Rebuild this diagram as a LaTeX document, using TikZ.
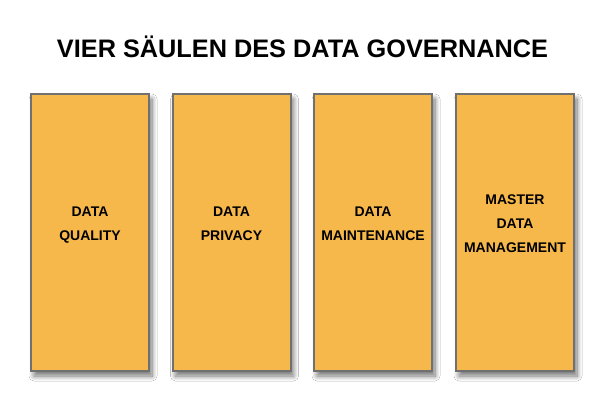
\documentclass[tikz,border=0pt]{standalone}
\usepackage{fontspec}
\setmainfont{Liberation Sans}
\usetikzlibrary{shadows.blur}
\definecolor{pillar}{HTML}{F7B84B}
\definecolor{pillaredge}{HTML}{707070}
\tikzset{
  pillarbox/.style={draw=pillaredge, line width=2pt, fill=pillar,
    blur shadow={shadow xshift=3pt, shadow yshift=-5pt, shadow blur steps=10, shadow blur radius=5pt, shadow opacity=55}},
  lbl/.style={font=\fontsize{14}{24}\selectfont\bfseries, align=center, text=black},
}
\begin{document}
\begin{tikzpicture}[x=1pt,y=-1pt]
\useasboundingbox[fill=white] (0,0) rectangle (600,400);
\node[font=\fontsize{25.3}{30}\selectfont\bfseries, anchor=base] (title) at (302.5,57.5) {VIER SÄULEN DES DATA GOVERNANCE};
\foreach \i/\x in {1/31,2/172.5,3/314,4/456}{
  \path[pillarbox] (\x,94) rectangle ++(118,277);
}
\node[lbl, anchor=base] (l1a) at (90,216) {DATA};
\node[lbl, anchor=base] (l1b) at (90,240) {QUALITY};
\node[lbl, anchor=base] (l2a) at (231.5,216) {DATA};
\node[lbl, anchor=base] (l2b) at (231.5,240) {PRIVACY};
\node[lbl, anchor=base] (l3a) at (373,216) {DATA};
\node[lbl, anchor=base] (l3b) at (373,240) {MAINTENANCE};
\node[lbl, anchor=base] (l4a) at (515,204) {MASTER};
\node[lbl, anchor=base] (l4b) at (515,228) {DATA};
\node[lbl, anchor=base] (l4c) at (515,252) {MANAGEMENT};
\end{tikzpicture}
\end{document}
